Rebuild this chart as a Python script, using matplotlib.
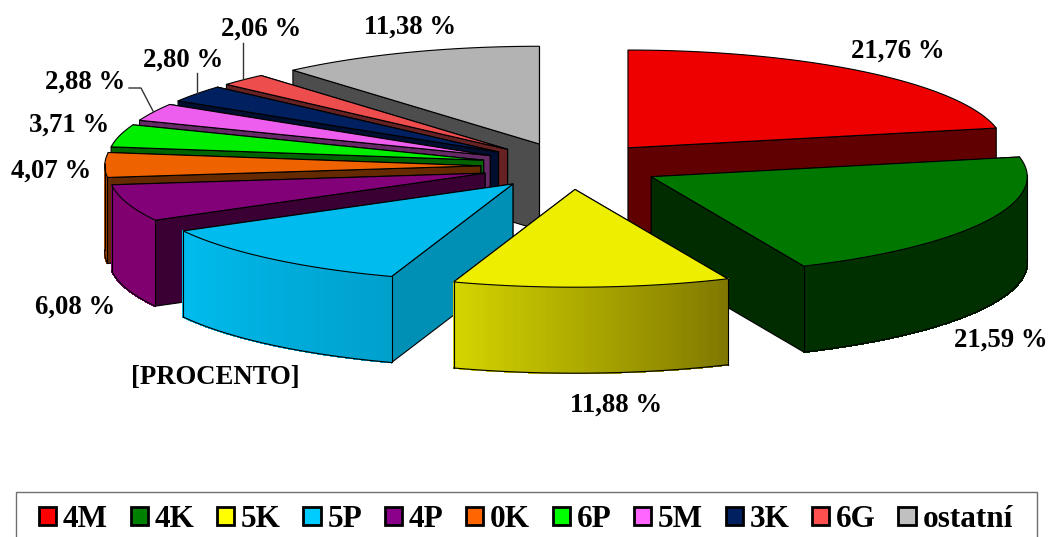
import numpy as np
import matplotlib
matplotlib.use('Agg')
import matplotlib.pyplot as plt
from matplotlib.patches import Patch, Polygon, Rectangle

categories = ['4M', '4K', '5K', '5P', '4P', '0K', '6P', '5M', '3K', '6G', 'ostatní']
values = [21.76, 21.59, 11.88, 11.79, 6.08, 4.07, 3.71, 2.88, 2.80, 2.06, 11.38]
value_labels = ['21,76 %', '21,59 %', '11,88 %', '[PROCENTO]', '6,08 %', '4,07 %',
                '3,71 %', '2,88 %', '2,80 %', '2,06 %', '11,38 %']

legend_colors = ['#FF0000', '#008000', '#FFFF00', '#00CCFF', '#8B008B', '#FF6600',
                 '#00FF00', '#FF66FF', '#002060', '#FF5050', '#C0C0C0']
top_colors = ['#EE0000', '#007800', '#EEEE00', '#00BCEE', '#820078', '#EE6300',
              '#00EE00', '#EE5EEE', '#002060', '#EE4D4D', '#B3B3B3']
side_colors = ['#600000', '#002C00', '#8F8F00', '#008FB5', '#3A0034', '#662A00',
               '#006400', '#662A66', '#000F30', '#662222', '#4D4D4D']
# wall colour at the start and end of each slice's arc (clockwise)
wall_from = ['#600000', '#003000', '#7F7800', '#00A0CC', '#800070', '#A84800',
             '#00A000', '#A040A0', '#001840', '#A03030', '#808080']
wall_to = ['#600000', '#003000', '#D4D400', '#00BCEE', '#800070', '#A84800',
           '#00A000', '#A040A0', '#001840', '#A03030', '#808080']

# back to front
draw_order = [10, 9, 8, 7, 6, 5, 4, 3, 0, 1, 2]

label_pos = [(898, 51), (1001, 340), (616, 405), (215, 377), (75, 307), (51, 171),
             (69, 125), (85, 82), (183, 60), (261, 29), (410, 27)]

cx, cy = 571, 166
R = 376
squash = 0.26
explode = 0.24
depth = 86
FONT = 'Liberation Serif'


def project(theta, r, ox, oy):
    return ox + R * r * np.sin(theta), oy - R * squash * r * np.cos(theta)


fig = plt.figure(figsize=(10.52, 5.37), dpi=100)
ax = fig.add_axes([0, 0, 1, 1])
ax.set_xlim(0, 1052)
ax.set_ylim(537, 0)
ax.axis('off')

edges = np.cumsum([0] + values) / np.sum(values) * 2 * np.pi

for i in draw_order:
    t0, t1 = edges[i], edges[i + 1]
    mid = (t0 + t1) / 2
    ox, oy = project(mid, explode, cx, cy)
    ts = np.linspace(t0, t1, 80)
    rx, ry = project(ts, 1.0, ox, oy)

    # cut faces, further one first
    faces = []
    for k in (0, -1):
        faces.append([(ox, oy), (rx[k], ry[k]), (rx[k], ry[k] + depth), (ox, oy + depth)])
    faces.sort(key=lambda f: f[1][1])
    for f in faces:
        ax.add_patch(Polygon(f, fc=side_colors[i], ec='black', lw=0.8, joinstyle='round'))

    # outer wall as thin strips, only the part that faces the viewer
    c0 = np.array(matplotlib.colors.to_rgb(wall_from[i]))
    c1 = np.array(matplotlib.colors.to_rgb(wall_to[i]))
    vis = np.cos(ts) < 0.02
    for k in range(len(ts) - 1):
        if vis[k] and vis[k + 1]:
            col = c0 + (c1 - c0) * k / (len(ts) - 2)
            ax.add_patch(Polygon([(rx[k], ry[k]), (rx[k + 1], ry[k + 1]),
                                  (rx[k + 1], ry[k + 1] + depth), (rx[k], ry[k] + depth)],
                                 fc=col, ec=col, lw=0.8, antialiased=False))
    if vis.any():
        ax.plot(rx[vis], ry[vis] + depth, color='black', lw=0.8)
        for k in np.flatnonzero(vis)[[0, -1]]:
            ax.plot([rx[k], rx[k]], [ry[k], ry[k] + depth], color='black', lw=0.8)

    # top face
    top = [(ox, oy)] + list(zip(rx, ry))
    ax.add_patch(Polygon(top, fc=top_colors[i], ec='black', lw=0.8, joinstyle='round'))

# value labels
for (x, y), txt in zip(label_pos, value_labels):
    ax.text(x, y, txt, family=FONT, weight='bold', fontsize=19.3, ha='center', va='center',
            color='black')

# leader lines of the three small slices
for xs, ys in [([129, 141, 153], [88, 88, 111]),
               ([197, 197], [73, 93]),
               ([243, 243], [43, 79])]:
    ax.plot(xs, ys, color='#333333', lw=1)

# legend frame runs off the bottom of the picture
ax.add_patch(Rectangle((16, 492), 1021, 60, fc='white', ec='#707070', lw=1))
handles = [Patch(fc=c, ec='black', lw=2) for c in legend_colors]
ax.legend(handles, categories, ncol=11, loc='upper left', bbox_to_anchor=(39, 505),
          bbox_transform=ax.transData, frameon=False, borderpad=0, borderaxespad=0,
          handlelength=0.55, handleheight=0.55, handletextpad=0.22, columnspacing=0.72,
          prop={'family': FONT, 'weight': 'bold', 'size': 22.5})

fig.savefig('out.png', dpi=100)
